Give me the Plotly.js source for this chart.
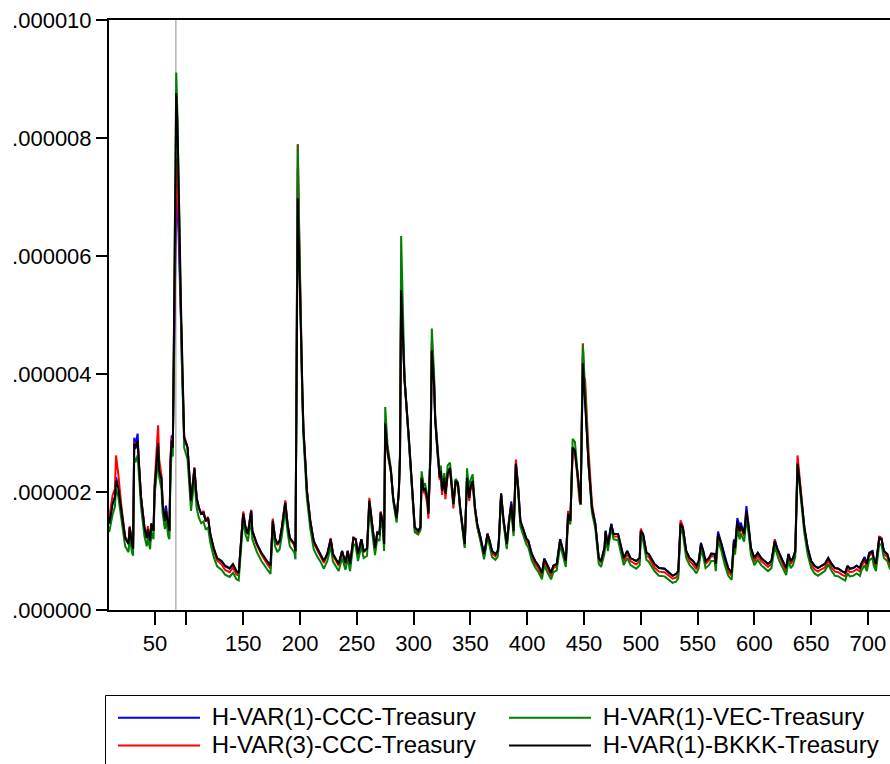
<!DOCTYPE html>
<html><head><meta charset="utf-8">
<script src="https://cdn.plot.ly/plotly-3.0.1.min.js"></script>
<style>html,body{margin:0;padding:0;background:#fff}#chart{width:890px;height:764px}</style>
</head><body><div id="chart"></div>
<script>
// observation index
const obs = [
32,35,37,38,40,43,46,49,50,52,
53,54,55,57,58,60,63,65,66,68,
69,71,72,74,75,76,78,79,81,82,
84,85,86,87,88,91,92,93,94,95,
96,97,98,101,103,104,107,109,111,113,
115,117,119,121,124,127,131,134,138,141,
144,146,149,150,152,154,157,158,162,166,
171,174,176,178,180,182,184,185,187,189,
191,193,195,196,198,199,200,201,202,203,
205,206,209,212,215,218,221,224,227,229,
234,237,240,242,244,247,249,251,254,256,
259,261,263,266,268,270,271,273,274,275,
277,280,282,285,287,288,289,290,291,292,
296,299,301,304,306,307,309,310,312,313,
315,316,318,319,321,323,324,325,327,328,
330,332,334,335,337,339,341,343,345,347,
349,350,352,354,356,359,362,363,365,367,
369,372,374,375,377,379,381,382,384,386,
388,390,392,394,397,399,401,404,407,410,
413,415,418,421,423,426,429,432,434,436,
438,440,442,444,446,447,449,450,451,454,
457,460,463,465,468,469,471,474,476,480,
482,485,488,491,496,499,500,502,505,507,
512,516,521,525,528,531,533,535,537,540,
543,546,549,551,553,555,557,560,562,565,
566,568,571,574,577,580,582,583,585,587,
588,591,593,595,597,600,603,606,609,612,
615,618,620,622,625,628,630,632,634,636,
638,640,642,644,647,650,653,656,659,662,
665,668,671,674,677,680,682,684,687,690,
693,694,697,699,701,704,705,707,710,712,
714,717,719,721];

// values in millionths (x 1e-6)
const ccc1 = [
1.48,1.82,1.92,2.25,2.10,1.65,1.22,1.12,1.40,1.12,
1.04,2.92,2.78,2.99,2.52,1.92,1.40,1.22,1.38,1.17,
1.46,1.34,2.08,2.50,2.85,2.38,2.24,1.82,1.52,1.77,
1.40,1.34,2.55,2.96,2.82,7.00,6.80,6.40,5.80,5.00,
4.20,3.55,2.92,2.75,2.19,1.85,2.40,1.90,1.73,1.63,
1.65,1.51,1.56,1.29,1.04,0.87,0.82,0.74,0.70,0.77,
0.65,0.62,1.41,1.64,1.40,1.29,1.68,1.34,1.12,0.96,
0.82,0.74,1.52,1.22,1.12,1.17,1.40,1.56,1.83,1.46,
1.22,1.17,1.12,1.00,7.50,6.40,5.35,4.40,3.62,3.05,
2.42,2.03,1.51,1.17,1.05,0.95,0.83,0.95,1.20,0.95,
0.78,1.00,0.80,1.00,0.78,1.22,1.20,0.95,1.20,1.00,
1.04,1.86,1.51,1.05,1.33,1.29,1.66,1.46,1.12,3.20,
2.70,2.36,1.90,1.55,2.02,2.60,5.40,5.00,4.40,3.90,
2.87,1.97,1.40,1.35,1.40,2.24,2.02,2.07,1.90,1.63,
2.76,4.45,3.82,3.22,2.65,2.24,2.38,2.02,2.25,1.97,
2.32,2.41,2.02,1.80,2.22,2.16,1.73,1.40,1.12,2.24,
1.90,2.07,2.19,1.73,1.46,1.22,0.95,1.05,1.29,1.17,
1.00,0.95,1.00,1.17,1.98,1.56,1.22,1.12,1.53,1.84,
1.34,2.48,2.10,1.51,1.34,1.22,1.17,0.95,0.83,0.75,
0.63,0.87,0.75,0.63,0.75,0.78,1.20,0.95,0.83,1.64,
1.51,2.76,2.70,2.36,1.90,1.80,4.30,3.80,3.55,2.50,
1.73,1.46,0.88,0.83,1.05,1.34,1.10,1.46,1.29,1.29,
1.12,0.88,1.00,0.88,0.83,0.88,1.34,1.29,0.97,0.95,
0.78,0.71,0.70,0.63,0.58,0.61,0.66,1.47,1.40,1.00,
0.88,0.83,0.75,0.83,1.14,1.00,0.83,0.88,0.96,0.95,
0.78,1.33,1.12,0.88,0.71,0.63,1.20,1.08,1.56,1.42,
1.48,1.30,1.76,1.42,1.05,0.88,0.97,0.88,0.83,0.78,
0.83,1.18,1.05,0.95,0.83,0.71,0.95,0.83,0.88,1.00,
2.50,2.15,1.73,1.40,1.05,0.83,0.75,0.71,0.75,0.78,
0.88,0.78,0.71,0.70,0.66,0.63,0.75,0.70,0.71,0.75,
0.71,0.78,0.90,0.78,0.97,1.00,0.88,0.78,1.25,1.20,
1.00,0.95,0.83,0.78];

const ccc3 = [
1.55,1.95,2.05,2.62,2.30,1.70,1.25,1.14,1.42,1.13,
1.05,2.85,2.75,2.85,2.50,1.92,1.40,1.22,1.42,1.17,
1.47,1.35,2.15,2.70,3.13,2.55,2.28,1.82,1.52,1.68,
1.40,1.34,2.60,2.92,2.80,7.65,7.30,6.80,6.00,5.10,
4.25,3.60,2.95,2.75,2.18,1.83,2.42,1.88,1.72,1.62,
1.68,1.50,1.58,1.26,1.01,0.84,0.77,0.68,0.64,0.72,
0.60,0.58,1.42,1.67,1.40,1.28,1.70,1.33,1.10,0.94,
0.78,0.70,1.55,1.20,1.10,1.15,1.40,1.57,1.86,1.45,
1.20,1.15,1.10,0.98,7.90,6.70,5.55,4.50,3.70,3.10,
2.45,2.05,1.52,1.15,1.02,0.92,0.80,0.94,1.22,0.93,
0.75,0.99,0.77,1.00,0.75,1.24,1.19,0.93,1.19,0.98,
1.03,1.90,1.50,1.02,1.30,1.28,1.67,1.45,1.10,3.20,
2.65,2.33,1.88,1.52,2.00,2.60,5.40,5.05,4.45,3.92,
2.85,1.92,1.36,1.30,1.38,2.22,1.98,2.00,1.80,1.55,
2.78,4.55,3.88,3.25,2.68,2.20,2.35,1.95,2.20,1.88,
2.30,2.38,1.95,1.72,2.15,2.10,1.68,1.36,1.08,2.22,
1.85,2.03,2.15,1.68,1.40,1.17,0.92,1.02,1.30,1.14,
0.96,0.91,0.97,1.14,1.95,1.52,1.18,1.08,1.50,1.80,
1.30,2.55,2.08,1.48,1.30,1.18,1.13,0.91,0.78,0.70,
0.58,0.83,0.70,0.58,0.71,0.74,1.17,0.92,0.80,1.68,
1.52,2.70,2.65,2.30,1.85,1.78,4.52,3.95,3.90,2.70,
1.80,1.45,0.85,0.80,1.02,1.32,1.05,1.43,1.25,1.24,
1.07,0.83,0.95,0.83,0.77,0.83,1.38,1.27,0.92,0.90,
0.72,0.65,0.64,0.57,0.53,0.55,0.60,1.52,1.42,0.96,
0.83,0.77,0.69,0.78,1.10,0.97,0.78,0.84,0.92,0.90,
0.73,1.28,1.08,0.83,0.65,0.58,1.15,1.02,1.48,1.30,
1.40,1.25,1.66,1.36,1.00,0.82,0.92,0.83,0.78,0.73,
0.78,1.20,1.02,0.91,0.78,0.65,0.92,0.78,0.84,0.98,
2.62,2.22,1.75,1.38,1.00,0.77,0.69,0.65,0.69,0.72,
0.83,0.72,0.65,0.64,0.60,0.57,0.69,0.64,0.65,0.69,
0.65,0.73,0.84,0.73,0.92,0.96,0.83,0.72,1.24,1.22,
0.95,0.90,0.78,0.72];

const vec1 = [
1.32,1.62,1.75,2.05,1.92,1.48,1.08,0.98,1.25,0.98,
0.92,2.60,2.50,2.62,2.30,1.75,1.25,1.08,1.22,1.03,
1.32,1.20,1.95,2.35,2.70,2.25,2.05,1.65,1.37,1.55,
1.25,1.20,2.35,2.70,2.60,9.11,8.40,7.50,6.35,5.20,
4.15,3.45,2.75,2.55,2.00,1.68,2.22,1.72,1.56,1.47,
1.50,1.36,1.40,1.14,0.90,0.74,0.68,0.60,0.56,0.63,
0.52,0.50,1.28,1.52,1.28,1.16,1.55,1.20,0.98,0.83,
0.69,0.61,1.40,1.08,0.98,1.03,1.26,1.43,1.70,1.32,
1.08,1.03,0.97,0.86,7.88,6.60,5.45,4.40,3.60,2.95,
2.30,1.90,1.38,1.03,0.91,0.82,0.70,0.83,1.08,0.82,
0.66,0.88,0.68,0.88,0.66,1.12,1.08,0.83,1.08,0.88,
0.92,1.78,1.40,0.93,1.20,1.17,1.55,1.35,1.00,3.44,
2.80,2.40,1.85,1.48,2.05,2.70,6.34,5.45,4.60,3.95,
2.80,1.88,1.32,1.28,1.35,2.35,2.10,2.15,1.95,1.65,
2.90,4.77,4.00,3.30,2.70,2.28,2.45,2.05,2.32,2.00,
2.45,2.50,2.05,1.78,2.22,2.15,1.70,1.35,1.05,2.40,
2.00,2.20,2.30,1.75,1.42,1.15,0.86,0.98,1.22,1.08,
0.90,0.85,0.90,1.08,1.97,1.50,1.13,1.03,1.45,1.72,
1.25,2.42,2.00,1.42,1.24,1.12,1.06,0.84,0.72,0.64,
0.52,0.76,0.63,0.52,0.64,0.67,1.10,0.85,0.73,1.55,
1.45,2.90,2.85,2.40,1.88,1.78,4.50,3.95,3.72,2.45,
1.65,1.38,0.78,0.73,0.95,1.25,1.00,1.40,1.20,1.18,
1.00,0.76,0.88,0.76,0.70,0.76,1.24,1.18,0.85,0.82,
0.66,0.58,0.57,0.50,0.46,0.48,0.54,1.38,1.30,0.88,
0.76,0.70,0.62,0.71,1.02,0.90,0.71,0.76,0.83,0.83,
0.66,1.18,1.00,0.76,0.58,0.51,1.05,0.94,1.38,1.20,
1.30,1.16,1.55,1.28,0.93,0.76,0.85,0.76,0.71,0.66,
0.71,1.08,0.94,0.83,0.71,0.59,0.84,0.71,0.76,0.90,
2.45,2.08,1.64,1.30,0.93,0.71,0.62,0.58,0.62,0.66,
0.77,0.66,0.58,0.57,0.53,0.50,0.62,0.57,0.58,0.62,
0.58,0.66,0.76,0.66,0.84,0.88,0.76,0.66,1.12,1.10,
0.88,0.83,0.71,0.66];

const bkkk1 = [
1.46,1.80,1.90,2.19,2.07,1.63,1.22,1.12,1.40,1.12,
1.04,2.82,2.73,2.87,2.48,1.90,1.40,1.22,1.37,1.17,
1.46,1.34,2.07,2.48,2.82,2.36,2.22,1.80,1.51,1.68,
1.40,1.34,2.53,2.87,2.75,8.76,8.30,7.50,6.40,5.30,
4.30,3.60,2.92,2.75,2.19,1.85,2.40,1.90,1.73,1.63,
1.65,1.51,1.56,1.29,1.05,0.88,0.83,0.75,0.71,0.78,
0.66,0.63,1.40,1.63,1.40,1.29,1.68,1.34,1.12,0.97,
0.83,0.75,1.51,1.22,1.12,1.17,1.40,1.56,1.82,1.46,
1.22,1.17,1.12,1.00,6.98,6.10,5.20,4.30,3.60,3.04,
2.41,2.02,1.51,1.17,1.05,0.95,0.83,0.95,1.20,0.95,
0.78,1.00,0.80,1.00,0.78,1.22,1.20,0.95,1.20,1.00,
1.04,1.85,1.51,1.05,1.31,1.29,1.65,1.46,1.12,3.16,
2.70,2.36,1.90,1.56,2.02,2.58,5.42,5.00,4.40,3.90,
2.87,1.97,1.40,1.34,1.40,2.24,2.02,2.07,1.90,1.63,
2.75,4.40,3.80,3.21,2.65,2.24,2.36,2.02,2.24,1.97,
2.31,2.41,2.02,1.80,2.19,2.14,1.73,1.40,1.12,2.24,
1.90,2.07,2.19,1.73,1.46,1.22,0.95,1.05,1.29,1.17,
1.00,0.95,1.00,1.17,1.97,1.56,1.22,1.12,1.51,1.80,
1.34,2.48,2.07,1.51,1.34,1.22,1.17,0.95,0.83,0.75,
0.63,0.87,0.75,0.63,0.75,0.78,1.20,0.95,0.83,1.63,
1.51,2.75,2.70,2.36,1.90,1.80,4.18,3.70,3.50,2.48,
1.73,1.46,0.88,0.83,1.05,1.34,1.10,1.46,1.29,1.29,
1.12,0.88,1.00,0.88,0.83,0.88,1.34,1.29,0.97,0.95,
0.78,0.71,0.70,0.63,0.58,0.61,0.66,1.46,1.40,1.00,
0.88,0.83,0.75,0.83,1.12,1.00,0.83,0.88,0.95,0.95,
0.78,1.29,1.12,0.88,0.71,0.63,1.17,1.05,1.51,1.34,
1.43,1.29,1.68,1.40,1.05,0.88,0.97,0.88,0.83,0.78,
0.83,1.17,1.05,0.95,0.83,0.71,0.95,0.83,0.88,1.00,
2.48,2.14,1.73,1.40,1.05,0.83,0.75,0.71,0.75,0.78,
0.88,0.78,0.71,0.70,0.66,0.63,0.75,0.70,0.71,0.75,
0.71,0.78,0.88,0.78,0.95,1.00,0.88,0.78,1.22,1.20,
1.00,0.95,0.83,0.78];

const seriesNames = ['H-VAR(1)-CCC-Treasury', 'H-VAR(3)-CCC-Treasury', 'H-VAR(1)-VEC-Treasury', 'H-VAR(1)-BKKK-Treasury'];
const unit = 1e-6;

const xTickVals = [72.3, 100, 150, 200, 250, 300, 350, 400, 450, 500, 550, 600, 650, 700];
const xTickText = ['50', '', '150', '200', '250', '300', '350', '400', '450', '500', '550', '600', '650', '700'];
const yTickVals = [0, 2e-6, 4e-6, 6e-6, 8e-6, 10e-6];
const yTickText = ['.000000', '.000002', '.000004', '.000006', '.000008', '.000010'];
const xRange = [31.8, 719.4];
const markerObs = 90.7;

const seriesList = [ccc1, ccc3, vec1, bkkk1];
seriesList.forEach((s, i) => { if (s.length !== obs.length) { document.body.insertAdjacentHTML('beforeend', '<p>len mismatch ' + i + ' ' + s.length + ' vs ' + obs.length + '</p>'); } });

const colors = ['#0000FF', '#FF0000', '#008000', '#000000'];
const ranks = [1, 3, 2, 4];
const traces = seriesList.map((s, i) => ({
  x: obs,
  y: s.map(v => v * unit),
  type: 'scatter',
  mode: 'lines',
  name: '<span style="font-size:24px"> ' + seriesNames[i] + '</span>',
  legendrank: ranks[i],
  line: {color: colors[i], width: 2},
  hoverinfo: 'skip'
}));

// plot-area geometry used to place the legend frame
const plotL = 109, plotW = 781, plotB = 610, plotH = 590;
const px2x = p => (p - plotL) / plotW;
const px2y = p => (plotB - p) / plotH;

const font = {family: 'Arial, "Liberation Sans", sans-serif', color: '#000'};
const layout = {
  width: 890, height: 764,
  margin: {l: 109, r: 0, t: 20, b: 154, autoexpand: false},
  paper_bgcolor: '#fff', plot_bgcolor: '#fff',
  font: Object.assign({size: 22}, font),
  showlegend: true,
  xaxis: {
    range: xRange, showgrid: false, zeroline: false,
    showline: true, linecolor: '#000', linewidth: 2, mirror: true,
    ticks: 'outside', ticklen: 13, tickwidth: 2, tickcolor: '#000',
    tickmode: 'array', tickvals: xTickVals, ticktext: xTickText,
    tickfont: Object.assign({size: 22}, font)
  },
  yaxis: {
    range: [0, 1e-5], showgrid: false, zeroline: false,
    showline: true, linecolor: '#000', linewidth: 2, mirror: false,
    ticks: 'outside', ticklen: 11, tickwidth: 1.5, tickcolor: '#000',
    tickmode: 'array', tickvals: yTickVals, ticktext: yTickText,
    tickfont: Object.assign({size: 22}, font)
  },
  shapes: [
    {type: 'line', xref: 'x', yref: 'paper', x0: markerObs, x1: markerObs, y0: 0, y1: 1,
     line: {color: '#8c8c8c', width: 1}, layer: 'below'},
    {type: 'rect', xref: 'paper', yref: 'paper', x0: px2x(105.5), x1: px2x(900), y0: px2y(695.5), y1: px2y(780),
     line: {color: '#000', width: 1}, fillcolor: 'rgba(0,0,0,0)', layer: 'above'}
  ],
  legend: {
    orientation: 'h', xref: 'paper', yref: 'paper',
    x: px2x(113), xanchor: 'left', y: px2y(699), yanchor: 'top',
    borderwidth: 0, bgcolor: 'rgba(0,0,0,0)',
    font: Object.assign({size: 19}, font),
    itemwidth: 82, entrywidth: 294, valign: 'middle',
    itemclick: false
  }
};

Plotly.newPlot('chart', traces, layout, {staticPlot: true, displayModeBar: false});
</script>
</body></html>
